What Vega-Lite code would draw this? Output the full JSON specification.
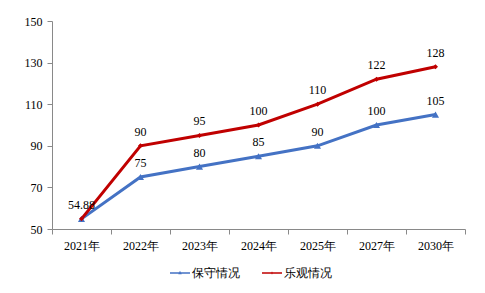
{
  "$schema": "https://vega.github.io/schema/vega-lite/v6.json",
  "width": 413,
  "height": 208,
  "autosize": "none",
  "padding": {"left": 52, "top": 21, "right": 20, "bottom": 64},
  "background": "white",
  "config": {
    "view": {"stroke": null},
    "font": "Liberation Serif",
    "axis": {"labelFont": "Liberation Serif", "labelFontSize": 12, "labelColor": "#000000"},
    "legend": {"labelFont": "Liberation Serif"},
    "text": {"font": "Liberation Serif"}
  },
  "data": {
    "values": [
      {"year": "2021年", "series": "保守情况", "value": 54.88, "label": ""},
      {"year": "2022年", "series": "保守情况", "value": 75, "label": "75"},
      {"year": "2023年", "series": "保守情况", "value": 80, "label": "80"},
      {"year": "2024年", "series": "保守情况", "value": 85, "label": "85"},
      {"year": "2025年", "series": "保守情况", "value": 90, "label": "90"},
      {"year": "2027年", "series": "保守情况", "value": 100, "label": "100"},
      {"year": "2030年", "series": "保守情况", "value": 105, "label": "105"},
      {"year": "2021年", "series": "乐观情况", "value": 54.88, "label": "54.88"},
      {"year": "2022年", "series": "乐观情况", "value": 90, "label": "90"},
      {"year": "2023年", "series": "乐观情况", "value": 95, "label": "95"},
      {"year": "2024年", "series": "乐观情况", "value": 100, "label": "100"},
      {"year": "2025年", "series": "乐观情况", "value": 110, "label": "110"},
      {"year": "2027年", "series": "乐观情况", "value": 122, "label": "122"},
      {"year": "2030年", "series": "乐观情况", "value": 128, "label": "128"}
    ]
  },
  "encoding": {
    "x": {
      "field": "year", "type": "ordinal", "sort": null,
      "scale": {"paddingInner": 0, "paddingOuter": 0},
      "axis": {"title": null, "labelAngle": 0, "tickBand": "extent", "domainColor": "#898989", "tickColor": "#898989", "tickSize": 5, "labelPadding": 6}
    },
    "y": {
      "field": "value", "type": "quantitative",
      "scale": {"domain": [50, 150], "nice": false, "zero": false},
      "axis": {"title": null, "values": [50, 70, 90, 110, 130, 150], "grid": false, "domainColor": "#898989", "tickColor": "#898989", "tickSize": 5, "labelPadding": 5}
    },
    "color": {
      "field": "series", "type": "nominal",
      "scale": {"domain": ["保守情况", "乐观情况"], "range": ["#4472C4", "#C00000"]},
      "legend": {
        "title": null, "orient": "none", "legendX": 118, "legendY": 242, "direction": "horizontal",
        "symbolSize": 400, "labelFontSize": 12, "columnPadding": 22, "labelColor": "#000000", "labelOffset": 2,
        "encode": {"symbols": {"update": {
          "shape": {"signal": "datum.value === '保守情况' ? 'M-1,-0.075H1V0.075H-1Z M0,-0.22L0.17,0.12H-0.17Z' : 'M-1,-0.075H1V0.075H-1Z M0,-0.14L0.1,0L0,0.14L-0.1,0Z'"},
          "fill": {"signal": "scale('color', datum.value)"},
          "size": {"value": 400},
          "strokeWidth": {"value": 0}
        }}}
      }
    }
  },
  "layer": [
    {"mark": {"type": "line", "strokeWidth": 3}},
    {
      "transform": [{"filter": "datum.series === '保守情况'"}],
      "mark": {"type": "point", "filled": true, "opacity": 1, "shape": "triangle-up", "size": 50}
    },
    {
      "transform": [{"filter": "datum.series === '乐观情况'"}],
      "mark": {"type": "point", "filled": true, "opacity": 1, "shape": "diamond", "size": 25}
    },
    {
      "mark": {"type": "text", "dy": -14, "fontSize": 12, "color": "#000000"},
      "encoding": {"text": {"field": "label"}, "color": {"value": "#000000"}}
    }
  ]
}
